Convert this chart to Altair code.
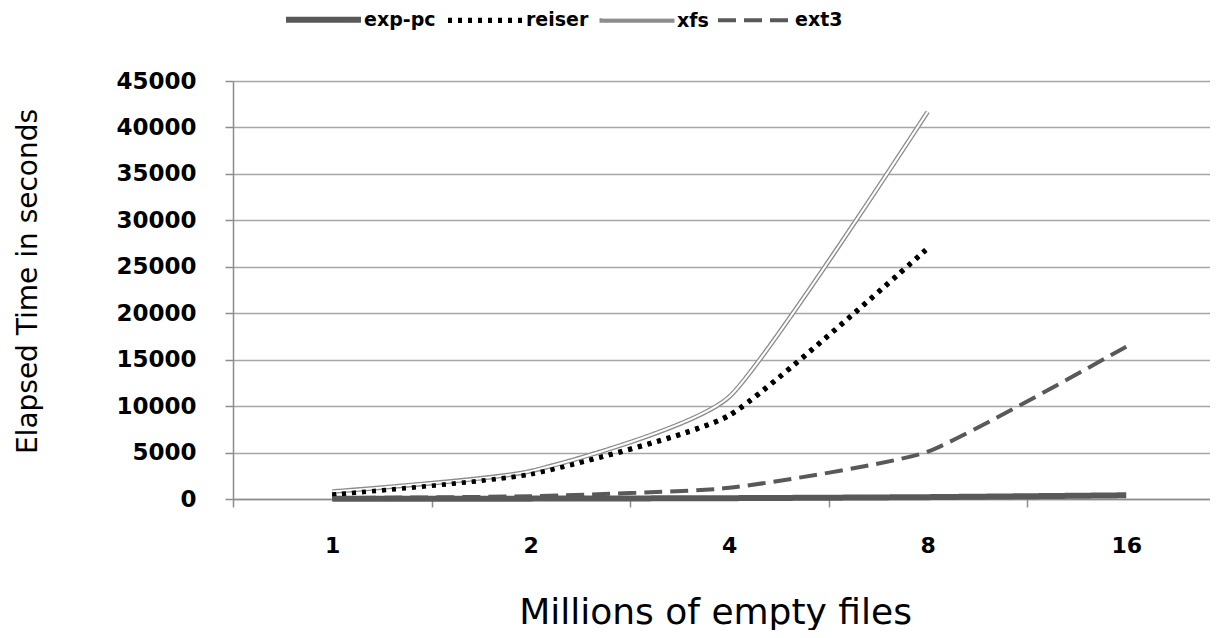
import json
import altair as alt
import pandas as pd

# ---- data ----
sizes = ["1", "2", "4", "8", "16"]              # millions of empty files (categories)
series = ["exp-pc", "reiser", "xfs", "ext3"]
exp_pc = [20, 40, 90, 200, 400]
reiser = [500, 2700, 9000, 27000, None]
xfs = [800, 3000, 11000, 41700, None]
ext3 = [100, 300, 1200, 5100, 16400]
y_ticks = [0, 5000, 10000, 15000, 20000, 25000, 30000, 35000, 40000, 45000]

rows = []
for name, vals in zip(series, [exp_pc, reiser, xfs, ext3]):
    for i, v in enumerate(vals):
        if v is not None:
            rows.append({"series": name, "pos": i, "size": sizes[i], "time": v})
df = pd.DataFrame(rows)

W, H = 977, 418
band = 198.5
xdomain = [-0.5, -0.5 + W / band]
x_vals = sorted([i for i in range(len(sizes))] + [i - 0.5 for i in range(len(sizes))])
label_expr = f"datum.value % 1 === 0 ? {json.dumps(sizes)}[datum.value] : ''"

colors = ["#595959", "#000000", "#8c8c8c", "#595959"]
dashes = [[1, 0], [4, 6], [1, 0], [18, 8]]
widths = [6, 4, 6, 6]
interp = "cardinal"
tension = 0.5

x_enc = alt.X(
    "pos:Q",
    scale=alt.Scale(domain=xdomain, nice=False, zero=False),
    axis=alt.Axis(
        values=x_vals,
        labelExpr=label_expr,
        labelOverlap=False,
        labelFlush=False,
        labelBound=False,
        grid=False,
        labelFontSize=22,
        labelPadding=28,
        tickOpacity={"condition": {"test": "datum.value % 1 !== 0", "value": 1}, "value": 0},
        titleFontSize=36,
        titleX=482,
        titleY=124,
        titleBaseline="alphabetic",
    ),
    title="Millions of empty files",
)
y_enc = alt.Y(
    "time:Q",
    scale=alt.Scale(domain=[0, 45000], nice=False),
    axis=alt.Axis(
        values=y_ticks,
        format="d",
        grid=True,
        labelFontSize=23,
        labelPadding=29,
        titleFontSize=28,
        titleX=-205,
        titleY=200,
        titleBaseline="middle",
        titleAngle=270,
    ),
    title="Elapsed Time in seconds",
)

LEG_X, LEG_Y = 50, -102
leg_common = dict(
    title=None,
    orient="none",
    direction="horizontal",
    symbolType="stroke",
    symbolSize=5625,
    labelFont="DejaVu Sans",
    labelFontWeight="bold",
    labelFontSize=19,
    labelOffset=0,
    columnPadding=1,
    labelLimit=200,
    legendY=LEG_Y,
)
main_legend = alt.Legend(legendX=LEG_X, symbolStrokeWidth=6, labelColor="#000000", **leg_common)
inner_legend = alt.Legend(legendX=LEG_X + 318, symbolStrokeWidth=2, labelExpr="''", **leg_common)

base = alt.Chart(df)

main = base.mark_line(interpolate=interp, tension=tension, strokeCap="butt").encode(
    x=x_enc,
    y=y_enc,
    color=alt.Color("series:N", scale=alt.Scale(domain=series, range=colors), legend=main_legend),
    strokeDash=alt.StrokeDash("series:N", scale=alt.Scale(domain=series, range=dashes), legend=main_legend),
    strokeWidth=alt.StrokeWidth("series:N", scale=alt.Scale(domain=series, range=widths), legend=main_legend),
)

xfs_inner = base.transform_filter(alt.datum.series == "xfs").mark_line(
    interpolate=interp, tension=tension, strokeWidth=2
).encode(
    x=x_enc,
    y=y_enc,
    color=alt.Color("series:N", scale=alt.Scale(domain=["xfs"], range=["#ffffff"]), legend=inner_legend),
)

reiser_top = base.transform_filter(alt.datum.series == "reiser").mark_line(
    interpolate=interp, tension=tension, color="#000000", strokeWidth=4, strokeDash=[4, 6], strokeCap="butt"
).encode(x=x_enc, y=y_enc)

chart = (
    alt.layer(main, xfs_inner, reiser_top)
    .resolve_scale(color="independent", strokeDash="independent", strokeWidth="independent")
    .resolve_legend(color="independent", strokeDash="independent", strokeWidth="independent")
    .properties(
        width=W,
        height=H,
        autosize=alt.AutoSizeParams(type="none"),
        padding={"left": 225, "top": 73, "right": 0, "bottom": 131},
        background="white",
    )
    .configure_view(stroke=None)
    .configure_axis(
        labelFont="DejaVu Sans",
        labelFontWeight="bold",
        labelColor="#000000",
        domainColor="#8c8c8c",
        domainWidth=1.5,
        tickColor="#8c8c8c",
        tickWidth=1.5,
        tickSize=8,
        gridColor="#a6a6a6",
        gridWidth=1.5,
        titleFont="DejaVu Sans",
        titleFontWeight="normal",
        titleColor="#000000",
    )
)

chart.save("out.html", embed_options={"renderer": "svg", "actions": False})
